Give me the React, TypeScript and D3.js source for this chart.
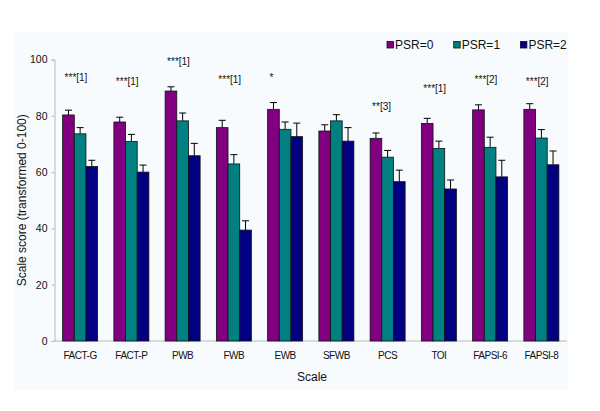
import React, { useEffect, useRef } from "react";
import * as d3 from "d3";

const categories = ["FACT-G", "FACT-P", "PWB", "FWB", "EWB", "SFWB", "PCS", "TOI", "FAPSI-6", "FAPSI-8"];
const seriesNames = ["PSR=0", "PSR=1", "PSR=2"];
const psr0 = [80.3, 77.8, 88.8, 75.8, 82.3, 74.6, 72.0, 77.3, 82.1, 82.3];
const psr0Err = [82.0, 79.5, 90.3, 78.4, 84.7, 76.8, 73.9, 79.1, 83.9, 84.3];
const psr1 = [73.6, 70.9, 78.2, 62.9, 75.2, 78.2, 65.3, 68.4, 68.8, 72.1];
const psr1Err = [75.8, 73.4, 81.0, 66.2, 77.8, 80.4, 67.7, 71.0, 72.4, 75.1];
const psr2 = [62.0, 60.0, 65.8, 39.4, 72.6, 71.0, 56.6, 54.0, 58.3, 62.6];
const psr2Err = [64.2, 62.5, 70.2, 42.7, 77.4, 75.8, 60.7, 57.2, 64.2, 67.5];
const annotations = ["***[1]", "***[1]", "***[1]", "***[1]", "*", "", "**[3]", "***[1]", "***[2]", "***[2]"];
const annotationLevel = [92.2, 90.8, 97.9, 91.5, 92.2, 0, 82.2, 88.6, 91.5, 90.8];
const yTicks = [0, 20, 40, 60, 80, 100];
const colors = ["#800080", "#008080", "#000080"];

export default function App() {
  const ref = useRef<SVGSVGElement>(null);

  useEffect(() => {
    const svg = d3.select(ref.current);
    svg.selectAll("*").remove();
    const font = "'Liberation Sans', Arial, sans-serif";

    const left = 54.5, right = 567, top = 59.5, bottom = 341;
    const y = d3.scaleLinear().domain([0, 100]).range([bottom, top]);
    const x0 = d3.scaleBand<string>().domain(categories).range([left, right]).paddingInner(0.317).paddingOuter(0.1585);
    const x1 = d3.scaleBand<string>().domain(seriesNames).range([0, x0.bandwidth()]).padding(0);

    svg.append("rect").attr("x", 15).attr("y", 32).attr("width", 553).attr("height", 358).attr("fill", "#f7fbfe");

    // y axis
    const yAxis = svg.append("g").attr("transform", `translate(${left},0)`)
      .call(d3.axisLeft(y).tickValues(yTicks).tickSize(3).tickPadding(4).tickFormat(d3.format("d")));
    yAxis.select(".domain").attr("stroke", "#b8b8b8");
    yAxis.selectAll(".tick line").attr("stroke", "#b8b8b8");
    yAxis.selectAll(".tick text").attr("font-family", font).attr("font-size", 10.5).attr("fill", "#111");

    // x axis line
    svg.append("line").attr("x1", left).attr("x2", right).attr("y1", bottom).attr("y2", bottom).attr("stroke", "#b8b8b8");

    const data = [
      { vals: psr0, errs: psr0Err },
      { vals: psr1, errs: psr1Err },
      { vals: psr2, errs: psr2Err },
    ];

    const groups = svg.append("g");
    categories.forEach((cat, i) => {
      const gx = x0(cat)!;
      data.forEach((s, j) => {
        const bx = gx + x1(seriesNames[j])!;
        const bw = x1.bandwidth();
        const cx = bx + bw / 2;
        // error bar
        groups.append("line").attr("x1", cx).attr("x2", cx).attr("y1", y(s.vals[i])).attr("y2", y(s.errs[i])).attr("stroke", "#000").attr("stroke-width", 1);
        groups.append("line").attr("x1", cx - 3.5).attr("x2", cx + 3.5).attr("y1", y(s.errs[i])).attr("y2", y(s.errs[i])).attr("stroke", "#000").attr("stroke-width", 1);
        groups.append("rect").attr("x", bx).attr("y", y(s.vals[i])).attr("width", bw).attr("height", y(0) - y(s.vals[i]))
          .attr("fill", colors[j]).attr("stroke", "#111").attr("stroke-width", 0.8);
      });
      // category label
      svg.append("text").attr("x", gx + x0.bandwidth() / 2).attr("y", 359).attr("text-anchor", "middle")
        .attr("font-family", font).attr("font-size", 10).attr("letter-spacing", -0.5).attr("fill", "#111").text(cat);
      if (annotations[i]) {
        svg.append("text").attr("x", gx + 2).attr("y", y(annotationLevel[i])).attr("text-anchor", "start")
          .attr("font-family", font).attr("font-size", 10).attr("fill", "#111").text(annotations[i]);
      }
    });

    // axis titles
    svg.append("text").attr("x", 312).attr("y", 381).attr("text-anchor", "middle").attr("font-family", font).attr("font-size", 12).attr("fill", "#111").text("Scale");
    svg.append("text").attr("transform", `translate(26,${(top + bottom) / 2}) rotate(-90)`).attr("text-anchor", "middle")
      .attr("font-family", font).attr("font-size", 12).attr("fill", "#111").text("Scale score (transformed 0-100)");

    // legend
    const legend = svg.append("g").attr("transform", "translate(387,41.5)");
    seriesNames.forEach((name, j) => {
      const g = legend.append("g").attr("transform", `translate(${j * 66.7},0)`);
      g.append("rect").attr("x", 0).attr("y", 0).attr("width", 6.5).attr("height", 6.5).attr("fill", colors[j]).attr("stroke", "#111").attr("stroke-width", 0.8);
      g.append("text").attr("x", 8).attr("y", 7.5).attr("font-family", font).attr("font-size", 12).attr("fill", "#111").text(name);
    });
  }, []);

  return (
    <svg ref={ref} width={600} height={411} style={{ position: "absolute", left: 0, top: 0, background: "#fff" }} />
  );
}
